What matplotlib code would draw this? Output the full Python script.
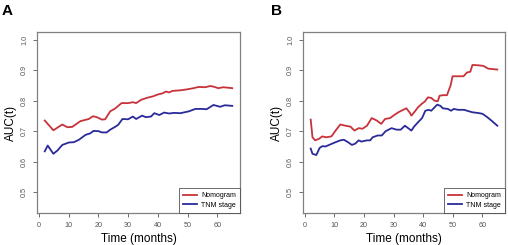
import matplotlib
matplotlib.use("Agg")
import matplotlib.pyplot as plt

plt.rcParams['font.family'] = ['Liberation Sans', 'DejaVu Sans']

# Panel A
a_nomo_x = [2, 4.9, 7.9, 9.6, 11.2, 14, 16.8, 18.2, 19.5, 21.2, 22.3, 24, 25.6, 27.8, 30, 31.6, 32.7,
            34.4, 36.6, 38.3, 39.9, 41.6, 42.7, 43.8, 44.9, 47.6, 49.8, 52, 53.7, 55.9, 57.6, 58.7,
            60.3, 62, 65]
a_nomo_y = [0.735, 0.703, 0.722, 0.713, 0.714, 0.733, 0.740, 0.749, 0.746, 0.738, 0.739, 0.765, 0.774,
            0.792, 0.792, 0.795, 0.792, 0.803, 0.810, 0.814, 0.820, 0.824, 0.830, 0.827, 0.832,
            0.834, 0.837, 0.841, 0.845, 0.844, 0.848, 0.846, 0.841, 0.844, 0.841]
a_tnm_x = [2, 3, 4.9, 6.3, 7.9, 10.1, 11.8, 13.5, 15.7, 17.3, 18.4, 20.1, 21.2, 22.8, 24, 25.6, 26.7,
           28.1, 30, 31.6, 32.7, 34.7, 36, 37.7, 38.8, 40.5, 42.1, 43.8, 45.4, 47.6, 50.4, 52.6,
           54.8, 56.4, 58.7, 60.9, 62.5, 65]
a_tnm_y = [0.634, 0.653, 0.626, 0.637, 0.655, 0.663, 0.664, 0.672, 0.688, 0.693, 0.701, 0.700, 0.696,
           0.696, 0.705, 0.714, 0.721, 0.740, 0.739, 0.748, 0.740, 0.751, 0.746, 0.748, 0.759,
           0.753, 0.761, 0.758, 0.760, 0.759, 0.765, 0.773, 0.773, 0.772, 0.786, 0.780, 0.785, 0.783]

# Panel B
b_nomo_x = [2, 2.6, 3.5, 4.8, 5.9, 7.2, 9, 10.4, 12, 13.7, 15.4, 16.8, 18.2, 19.5, 21, 22.6, 24.3,
            25.8, 27.1, 28.8, 30.2, 31.6, 33.2, 34.3, 35.5, 36, 37.1, 38.2, 39.4, 40.5, 41.6,
            42.7, 43.8, 44.9, 45.5, 46.6, 48, 49.2, 49.9, 51.8, 53.6, 54.7, 55.9, 56.6, 58.5,
            60.3, 61.9, 63.9, 65]
b_nomo_y = [0.738, 0.680, 0.670, 0.675, 0.683, 0.680, 0.683, 0.702, 0.722, 0.718, 0.715, 0.702, 0.710,
            0.708, 0.718, 0.743, 0.735, 0.724, 0.740, 0.743, 0.753, 0.762, 0.770, 0.775, 0.760,
            0.751, 0.764, 0.778, 0.789, 0.797, 0.811, 0.809, 0.800, 0.798, 0.816, 0.818, 0.818,
            0.849, 0.880, 0.880, 0.880, 0.892, 0.895, 0.917, 0.916, 0.914, 0.905, 0.903, 0.902]
b_tnm_x = [2, 2.6, 3.9, 5, 5.9, 7, 8.7, 10.4, 12, 13.2, 14.6, 15.9, 17, 18.2, 19.1, 21, 22.1, 22.9,
           24.6, 26, 27.3, 29.3, 31, 32.4, 33.8, 34.9, 36, 36.9, 38.2, 39.6, 40.7, 41.8, 42.7,
           43.8, 44.7, 45.8, 46.6, 48.3, 49.4, 50.3, 51.8, 53.8, 55.5, 56.6, 58.3, 60, 61.6,
           63, 65]
b_tnm_y = [0.643, 0.626, 0.622, 0.645, 0.651, 0.650, 0.657, 0.664, 0.670, 0.672, 0.664, 0.655, 0.659,
           0.670, 0.666, 0.670, 0.670, 0.680, 0.686, 0.686, 0.700, 0.710, 0.705, 0.705, 0.718,
           0.710, 0.702, 0.715, 0.729, 0.743, 0.767, 0.770, 0.767, 0.778, 0.787, 0.783, 0.775,
           0.773, 0.767, 0.773, 0.770, 0.770, 0.765, 0.762, 0.760, 0.757, 0.746, 0.735, 0.718]

series_labels = ["Nomogram", "TNM stage"]
panel_labels = ["A", "B"]
xticks = [0, 10, 20, 30, 40, 50, 60]
yticks = [0.5, 0.6, 0.7, 0.8, 0.9, 1.0]

RED = "#c8323a"
BLUE = "#2a2a9a"
GREY = "#808080"

fig = plt.figure(figsize=(5.08, 2.45), dpi=100)
axA = fig.add_axes([37/508, 32/245, 203/508, 181/245])
axB = fig.add_axes([303/508, 32/245, 202/508, 181/245])

panels = [(axA, a_nomo_x, a_nomo_y, a_tnm_x, a_tnm_y),
          (axB, b_nomo_x, b_nomo_y, b_tnm_x, b_tnm_y)]

for i, (ax, nx, ny, tx, ty) in enumerate(panels):
    ax.plot(nx, ny, color=RED, lw=1.3, label=series_labels[0])
    ax.plot(tx, ty, color=BLUE, lw=1.3, label=series_labels[1])
    ax.set_xlim(-0.6, 67.6)
    ax.set_ylim(0.432, 1.025)
    ax.set_xticks(xticks)
    ax.set_yticks(yticks)
    ax.set_yticklabels([f"{v:.1f}" for v in yticks], rotation=90, va='center')
    ax.tick_params(labelsize=5.2, colors="#555555", length=3, width=0.6, pad=3.5)
    for s in ax.spines.values():
        s.set_color(GREY)
        s.set_linewidth(0.9)
    ax.set_ylabel("AUC(t)", fontsize=8.5, labelpad=3)
    ax.set_xlabel("Time (months)", fontsize=8.5, labelpad=3)
    leg = ax.legend(loc='lower right', fontsize=5, frameon=True, fancybox=False,
                    edgecolor="#444444", borderaxespad=0, handlelength=2.0,
                    borderpad=0.6, labelspacing=0.35, handletextpad=0.6)
    leg.get_frame().set_linewidth(0.7)

fig.text(2/508, 1 - 15/245, panel_labels[0], fontsize=11, fontweight='bold', va='baseline')
fig.text(271/508, 1 - 15/245, panel_labels[1], fontsize=11, fontweight='bold', va='baseline')

fig.savefig("out.png", dpi=100)
